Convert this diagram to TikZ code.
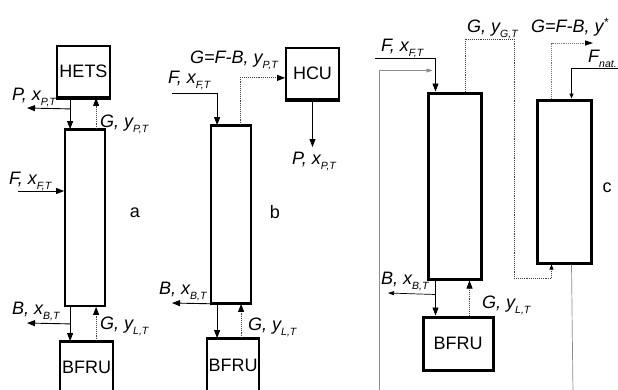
\documentclass[tikz,border=0pt]{standalone}
\usepackage{fontspec}
\setmainfont{Liberation Sans}
\usetikzlibrary{arrows.meta,calc}
\newcommand\sbs[1]{\raisebox{-5.5pt}{\fontsize{10.5}{11}\selectfont\textit{#1}}}
\newcommand\sps[1]{\raisebox{6pt}{\fontsize{12}{12}\selectfont #1}}
\begin{document}
\begin{tikzpicture}[x=1pt,y=-1pt,
  box/.style={draw,line width=1.8pt,inner sep=0pt,font=\fontsize{18}{20}\selectfont},
  colc/.style={draw,line width=3pt,inner sep=0pt},
  lab/.style={inner sep=0pt,anchor=base west,font=\fontsize{18}{20}\selectfont\itshape},
  tag/.style={inner sep=0pt,font=\fontsize{18}{20}\selectfont},
  arr/.style={-{Triangle[length=8pt,width=6pt]},line width=0.9pt},
  gas/.style={-{Triangle[length=8pt,width=6pt,color=black]},line width=0.9pt,densely dotted,black!75},
  rec/.style={-{Triangle[length=6pt,width=4pt]},line width=0.7pt,black!45},
  recl/.style={line width=0.7pt,black!45}]
\clip (0,0) rectangle (618,389);
\fill[white] (0,0) rectangle (618,389);

% ---------- panel a ----------
\node[box,minimum width=53pt,minimum height=51pt] (hets) at (83.5,71.5) {HETS};
\draw[line width=3.5pt] (hets.south west) -- (hets.south east);
\node[box,minimum width=40pt,minimum height=176pt] (colA) at (85,218) {};
\draw[line width=3pt] (colA.north west) -- (colA.north east);
\node[box,minimum width=53pt,minimum height=50pt] (bfruA) at (86.5,367) {BFRU};
\draw[line width=3pt] (bfruA.north west) -- (bfruA.north east);
\coordinate (pA) at (27,108);
\coordinate (fA) at (18,191);
\coordinate (bA) at (27,323);
\draw[arr] ($(hets.south west)+(14,0)$) -- ($(colA.north west)+(6,0)$);
\draw[arr] ($(hets.south west)+(14,11)$) -- (pA);
\draw[gas] ($(colA.north west)+(32,0)$) -- ($(hets.south west)+(40,0)$);
\draw[arr] (fA) -- (colA.west |- fA);
\draw[arr] ($(colA.south west)+(6,0)$) -- ($(bfruA.north west)+(11,0)$);
\draw[arr] ($(colA.south west)+(6,17)$) -- (bA);
\draw[gas] ($(bfruA.north west)+(37,0)$) -- ($(colA.south west)+(32,0)$);
\node[lab] (lPa) at (12,100) {P, x\sbs{P,T}};
\node[lab] (lGa) at (100,127) {G, y\sbs{P,T}};
\node[lab] (lFa) at (9,184) {F, x\sbs{F,T}};
\node[tag] (ta) at (135,213) {a};
\node[lab] (lBa) at (12,314) {B, x\sbs{B,T}};
\node[lab] (lLa) at (100,329) {G, y\sbs{L,T}};

% ---------- panel b ----------
\node[box,minimum width=53pt,minimum height=51pt] (hcu) at (312.5,73.5) {HCU};
\draw[line width=3.5pt] (hcu.south west) -- (hcu.south east);
\node[box,minimum width=40pt,minimum height=177pt] (colB) at (231,214.5) {};
\draw[line width=3pt] (colB.north west) -- (colB.north east);
\draw[line width=3pt] (colB.south west) -- (colB.south east);
\node[box,minimum width=52pt,minimum height=52pt] (bfruB) at (233,365) {BFRU};
\draw[line width=3pt] (bfruB.north west) -- (bfruB.north east);
\coordinate (fB) at (172,93);
\coordinate (pB) at (312.5,147);
\coordinate (bB) at (172,303);
\draw[arr] (fB) -| ($(colB.north west)+(7,0)$);
\draw[gas] ($(colB.north west)+(30,0)$) |- ($(hcu.south west)+(0,-22)$);
\draw[arr] (hcu.south) -- (pB);
\draw[arr] ($(colB.south west)+(7,0)$) -- (bB);
\draw[arr] ($(colB.south west)+(7,0)$) -- ($(bfruB.north west)+(11,0)$);
\draw[gas] ($(bfruB.north west)+(35,0)$) -- ($(colB.south west)+(31,0)$);
\node[lab] (lFb) at (168,83) {F, x\sbs{F,T}};
\node[lab] (lGb) at (190,63) {G=F-B, y\sbs{P,T}};
\node[lab] (lPb) at (292,164) {P, x\sbs{P,T}};
\node[tag] (tb) at (275,212) {b};
\node[lab] (lBb) at (159,294) {B, x\sbs{B,T}};
\node[lab] (lLb) at (248,330) {G, y\sbs{L,T}};

% ---------- panel c ----------
\node[colc,minimum width=53pt,minimum height=186pt] (colC1) at (454.5,186) {};
\node[colc,minimum width=54pt,minimum height=163pt] (colC2) at (564,181.5) {};
\node[colc,font=\fontsize{18}{20}\selectfont,minimum width=70pt,minimum height=53pt] (bfruC) at (458,343.5) {BFRU};
\coordinate (fC) at (375,58);
\coordinate (rC) at (379,395);
\coordinate (gC) at (514,39);
\coordinate (gCb) at (514,278);
\coordinate (yC) at (593,43);
\coordinate (fnC) at (620,68);
\coordinate (c2b) at (573,395);
\coordinate (bC) at (388,293);
\draw[arr] (fC) -| ($(colC1.north west)+(9,0)$);
\draw[rec] (rC) |- ($(colC1.north west)+(6,-21)$);
\draw[gas,-{Triangle[length=5pt,width=4pt,color=black]}] ($(colC1.north west)+(39,0)$) |- (gC) -- (gCb) -| ($(colC2.south west)+(16,0)$);
\draw[gas,black!55,-{Triangle[length=8pt,width=5pt,color=black]}] ($(colC2.north west)+(16,0)$) |- (yC);
\draw[arr,line width=0.7pt,-{Triangle[length=5pt,width=4pt]}] (fnC) -| ($(colC2.north west)+(36,0)$);
\draw[recl] ($(colC2.south west)+(36,0)$) -- (c2b);
\draw[arr,line width=0.7pt,-{Triangle[length=6pt,width=4pt]}] ($(colC1.south west)+(9,14)$) -- (bC);
\draw[arr] ($(colC1.south west)+(9,0)$) -- ($(bfruC.north west)+(14,0)$);
\draw[gas] ($(bfruC.north west)+(48,0)$) -- ($(colC1.south west)+(43,0)$);
\node[lab] (lFc) at (381,51) {F, x\sbs{F,T}};
\node[lab] (lGc) at (467,32) {G, y\sbs{G,T}};
\node[lab] (lYc) at (531,32) {G=F-B, y\sps{*}};
\node[lab] (lNc) at (588,62) {F\sbs{nat.}};
\node[tag] (tc) at (607,188) {c};
\node[lab] (lBc) at (381,284) {B, x\sbs{B,T}};
\node[lab] (lLc) at (482,308) {G, y\sbs{L,T}};
\end{tikzpicture}
\end{document}
